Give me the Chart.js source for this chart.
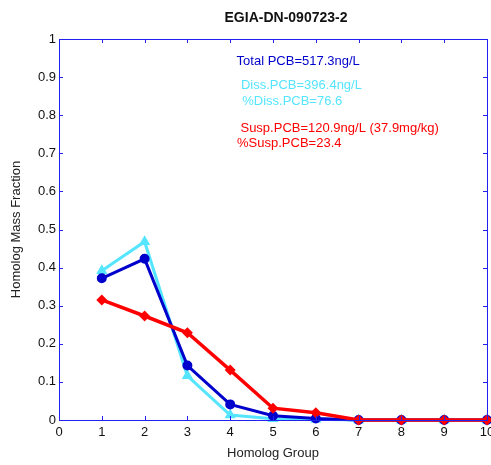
<!DOCTYPE html>
<html>
<head>
<meta charset="utf-8">
<script src="https://cdn.jsdelivr.net/npm/chart.js@4/dist/chart.umd.min.js"></script>
<style>
  html, body { margin: 0; padding: 0; background: #fff; }
  #wrap { width: 491px; height: 465px; }
</style>
</head>
<body>
<div id="wrap"><canvas id="chart"></canvas></div>
<script>
// Homolog groups (x axis)
const groups = [1, 2, 3, 4, 5, 6, 7, 8, 9, 10];
// mass fractions
const totalFrac = [0.372, 0.423, 0.143, 0.041, 0.011, 0.004, 0, 0, 0, 0];
const dissFrac = [0.392, 0.468, 0.116, 0.013, 0.003, 0.002, 0, 0, 0, 0];
const suspFrac = [0.315, 0.273, 0.229, 0.131, 0.031, 0.019, 0, 0, 0, 0];
const chartTitle = 'EGIA-DN-090723-2';
const notes = [
    { text: 'Total PCB=517.3ng/L', color: '#0000CC' },
    { text: 'Diss.PCB=396.4ng/L', color: '#55E5FF' },
    { text: '%Diss.PCB=76.6', color: '#55E5FF' },
    { text: 'Susp.PCB=120.9ng/L (37.9mg/kg)', color: '#FF0000' },
    { text: '%Susp.PCB=23.4', color: '#FF0000' }
];
// where each note sits, in data units
const notePos = [[4.15, 0.940], [4.25, 0.879], [4.28, 0.837], [4.24, 0.766], [4.16, 0.727]];

const FONT = 'Liberation Sans, Arial, sans-serif';

function pts(ys) {
    return groups.map((g, i) => ({ x: g, y: ys[i] }));
}

// MATLAB style box, inward ticks, title and text notes
const matlabAxes = {
    id: 'matlabAxes',
    afterDraw(chart) {
        const ctx = chart.ctx;
        const a = chart.chartArea;
        const xs = chart.scales.x, ys = chart.scales.y;
        ctx.save();
        ctx.strokeStyle = '#2222EE';
        ctx.lineWidth = 1;
        ctx.strokeRect(a.left + 0.5, a.top + 0.5, a.right - a.left, a.bottom - a.top);
        ctx.beginPath();
        xs.ticks.forEach(t => {
            const px = Math.round(xs.getPixelForValue(t.value)) + 0.5;
            ctx.moveTo(px, a.bottom); ctx.lineTo(px, a.bottom - 4);
            ctx.moveTo(px, a.top); ctx.lineTo(px, a.top + 4);
        });
        ys.ticks.forEach(t => {
            const py = Math.round(ys.getPixelForValue(t.value)) + 0.5;
            ctx.moveTo(a.left, py); ctx.lineTo(a.left + 4, py);
            ctx.moveTo(a.right, py); ctx.lineTo(a.right - 4, py);
        });
        ctx.stroke();

        ctx.fillStyle = '#111';
        ctx.font = 'bold 14px ' + FONT;
        ctx.textAlign = 'center';
        ctx.textBaseline = 'middle';
        ctx.fillText(chartTitle, 286, 18);

        ctx.font = '13px ' + FONT;
        ctx.textAlign = 'left';
        notes.forEach((n, i) => {
            ctx.fillStyle = n.color;
            ctx.fillText(n.text, xs.getPixelForValue(notePos[i][0]), ys.getPixelForValue(notePos[i][1]));
        });
        ctx.restore();
    }
};

new Chart(document.getElementById('chart'), {
    type: 'line',
    data: {
        datasets: [
            {
                label: 'Susp',
                data: pts(suspFrac),
                borderColor: '#FF0000',
                backgroundColor: '#FF0000',
                borderWidth: 3.5,
                pointStyle: 'rectRot',
                pointRadius: 3,
                order: 0
            },
            {
                label: 'Total',
                data: pts(totalFrac),
                borderColor: '#0000CC',
                backgroundColor: '#0000CC',
                borderWidth: 3,
                pointStyle: 'circle',
                pointRadius: 3.5,
                order: 1
            },
            {
                label: 'Diss',
                data: pts(dissFrac),
                borderColor: '#55E5FF',
                backgroundColor: '#55E5FF',
                borderWidth: 3,
                pointStyle: 'triangle',
                pointRadius: 3.5,
                order: 2
            }
        ]
    },
    options: {
        responsive: true,
        maintainAspectRatio: false,
        animation: false,
        clip: false,
        layout: { autoPadding: false, padding: { left: 0, right: 4, top: 39, bottom: 0 } },
        plugins: {
            legend: { display: false },
            tooltip: { enabled: false }
        },
        scales: {
            x: {
                type: 'linear',
                min: 0,
                max: 10,
                ticks: { stepSize: 1, color: '#111', padding: 5, font: { family: FONT, size: 13 } },
                grid: { display: false, drawTicks: false },
                border: { display: false },
                title: { display: true, text: 'Homolog Group', color: '#222', font: { family: FONT, size: 13 }, padding: { top: 6, bottom: 4 } },
                afterFit(s) { s.height = 45; s.paddingLeft = 0; s.paddingRight = 0; }
            },
            y: {
                type: 'linear',
                min: 0,
                max: 1,
                ticks: {
                    stepSize: 0.1, color: '#111', padding: 3, font: { family: FONT, size: 13 },
                    callback: v => String(Number(v.toFixed(1)))
                },
                grid: { display: false, drawTicks: false },
                border: { display: false },
                title: { display: true, text: 'Homolog Mass Fraction', color: '#222', font: { family: FONT, size: 13 }, padding: { top: 9, bottom: 4 } },
                afterFit(s) { s.width = 59; }
            }
        }
    },
    plugins: [matlabAxes]
});
</script>
</body>
</html>
